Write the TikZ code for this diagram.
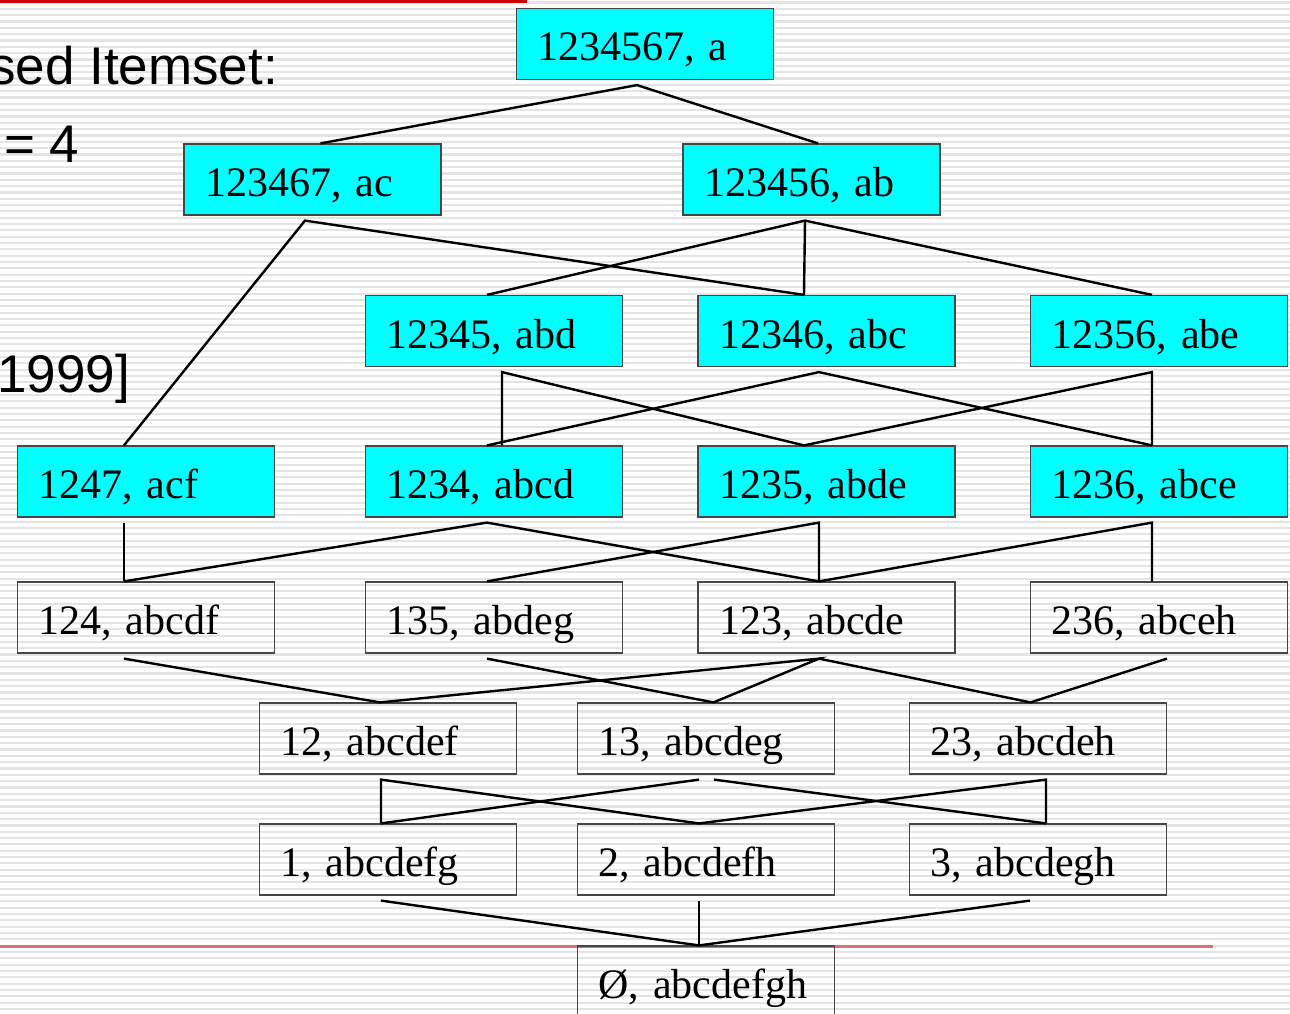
\documentclass[tikz,border=0pt]{standalone}
\usepackage{fontspec}
\setmainfont{Liberation Serif}
\newfontfamily\arialfont{Liberation Sans}
\usetikzlibrary{calc}
\definecolor{stripegray}{RGB}{228,228,228}
\definecolor{topred}{RGB}{204,0,0}
\definecolor{lowred}{RGB}{222,112,112}
\definecolor{boxedge}{RGB}{70,70,70}
\definecolor{aqua}{RGB}{0,255,255}
\tikzset{
  itembox/.style={draw=boxedge, line width=1.2pt, minimum width=257pt, minimum height=71pt,
    inner xsep=21pt, inner ysep=0pt, text width=215pt, align=left,
    text height=40pt, text depth=6pt, font=\fontsize{42}{46}\selectfont},
  closedbox/.style={itembox, fill=aqua},
  openbox/.style={itembox},
  link/.style={line width=2.4pt, black},
  slidetext/.style={inner sep=0pt, font=\arialfont\fontsize{53}{60}\selectfont},
}
\begin{document}
\begin{tikzpicture}[x=1pt,y=-1pt]
\useasboundingbox (0,0) rectangle (1290,1014);
\fill[white] (0,0) rectangle (1290,1014);
\foreach \i in {0,...,160} {
  \fill[stripegray] (0,\i*6.33+1.5) rectangle (1290,\i*6.33+3.6);
}
\fill[topred] (0,0) rectangle (527,3);
\fill[lowred] (0,945) rectangle (1213,947.5);

% slide text (partially cut)
\node[slidetext, anchor=base west] (t1) at (-11,85) {sed Itemset:};
\node[slidetext, anchor=base west] (t2) at (4,162) {= 4};
\node[slidetext, anchor=base east] (t3) at (130,392) {1999]};

% row 0
\node[closedbox] (n0) at (645,44) {1234567, a};
% row 1
\node[closedbox] (ac) at (312.5,179.5) {123467, ac};
\node[closedbox] (ab) at (811.5,179.5) {123456, ab};
% row 2
\node[closedbox] (abd) at (494,331) {12345, abd};
\node[closedbox] (abc) at (826.5,331) {12346, abc};
\node[closedbox] (abe) at (1159,331) {12356, abe};
% row 3
\node[closedbox] (acf) at (146,481.5) {1247, acf};
\node[closedbox] (abcd) at (494,481.5) {1234, abcd};
\node[closedbox] (abde) at (826.5,481.5) {1235, abde};
\node[closedbox] (abce) at (1159,481.5) {1236, abce};
% row 4
\node[openbox] (abcdf) at (146,617.5) {124, abcdf};
\node[openbox] (abdeg) at (494,617.5) {135, abdeg};
\node[openbox] (abcde) at (826.5,617.5) {123, abcde};
\node[openbox] (abceh) at (1159,617.5) {236, abceh};
% row 5
\node[openbox] (abcdef) at (388,738.5) {12, abcdef};
\node[openbox] (abcdeg) at (706,738.5) {13, abcdeg};
\node[openbox] (abcdeh) at (1038,738.5) {23, abcdeh};
% row 6
\node[openbox] (abcdefg) at (388,859.5) {1, abcdefg};
\node[openbox] (abcdefh) at (706,859.5) {2, abcdefh};
\node[openbox] (abcdegh) at (1038,859.5) {3, abcdegh};
% row 7
\node[openbox] (empty) at (706,981.5) {\O, abcdefgh};

% row 0 -> 1
\draw[link] ($(ac.north)+(8,0)$) -- ($(n0.south)+(-8,5)$) -- ($(ab.north)+(6.5,0)$);
% row 1 -> 2
\draw[link] ($(acf.north)+(-22,0)$) -- ($(ac.south)+(-7.5,5)$) -- ($(abc.north)+(-22.5,0)$);
\draw[link] ($(abd.north)+(-7,0)$) -- ($(ab.south)+(-6.5,5)$) -- ($(abe.north)+(-7,0)$);
\draw[link] ($(ab.south)+(-6.5,5)$) -- ($(abc.north)+(-22.5,0)$);
% row 2 -> 3
\draw[link] ($(abcd.north)+(8,0)$) -- ($(abd.south)+(8,5)$) -- ($(abde.north)+(-22.5,0)$);
\draw[link] ($(abcd.north)+(-7,0)$) -- ($(abc.south)+(-7.5,5)$) -- ($(abce.north)+(-7,0)$);
\draw[link] ($(abde.north)+(-22.5,0)$) -- ($(abe.south)+(-7,5)$) -- ($(abce.north)+(-7,0)$);
% row 3 -> 4
\draw[link] ($(acf.south)+(-22,5)$) -- ($(abcdf.north)+(-22,0)$);
\draw[link] ($(abcdf.north)+(-22,0)$) -- ($(abcd.south)+(-7,5)$) -- ($(abcde.north)+(-7.5,0)$);
\draw[link] ($(abdeg.north)+(-7,0)$) -- ($(abde.south)+(-7.5,5)$) -- ($(abcde.north)+(-7.5,0)$);
\draw[link] ($(abcde.north)+(-7.5,0)$) -- ($(abce.south)+(-7,5)$) -- ($(abceh.north)+(-7,0)$);
% row 4 -> 5
\draw[link] ($(abcdf.south)+(-22,5)$) -- ($(abcdef.north)+(-8,0)$);
\draw[link] ($(abdeg.south)+(-7,5)$) -- ($(abcdeg.north)+(7.5,0)$);
\draw[link] ($(abcdef.north)+(-8,0)$) -- ($(abcde.south)+(-7.5,5)$) -- ($(abcdeg.north)+(7.5,0)$);
\draw[link] ($(abcde.south)+(-7.5,5)$) -- ($(abcdeh.north)+(-7.5,0)$);
\draw[link] ($(abceh.south)+(8,5)$) -- ($(abcdeh.north)+(-7.5,0)$);
% row 5 -> 6
\draw[link] ($(abcdefg.north)+(-7,0)$) -- ($(abcdef.south)+(-7,5)$) -- ($(abcdefh.north)+(-7,0)$);
\draw[link] ($(abcdeg.south)+(-7,5)$) -- ($(abcdefg.north)+(-7,0)$);
\draw[link] ($(abcdeg.south)+(8,5)$) -- ($(abcdegh.north)+(8,0)$);
\draw[link] ($(abcdefh.north)+(-7,0)$) -- ($(abcdeh.south)+(8,5)$) -- ($(abcdegh.north)+(8,0)$);
% row 6 -> 7
\draw[link] ($(abcdefg.south)+(-7,5)$) -- ($(empty.north)+(-7,0)$);
\draw[link] ($(abcdefh.south)+(-7,5)$) -- ($(empty.north)+(-7,0)$);
\draw[link] ($(abcdegh.south)+(-8,5)$) -- ($(empty.north)+(-7,0)$);
\end{tikzpicture}
\end{document}
